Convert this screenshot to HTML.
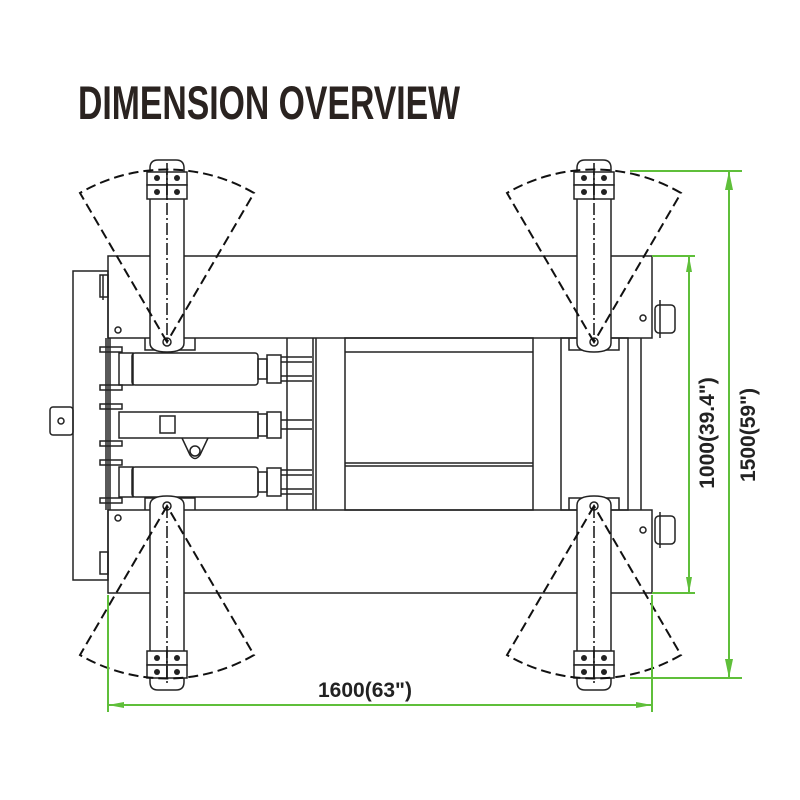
<!DOCTYPE html>
<html><head><meta charset="utf-8"><style>
html,body{margin:0;padding:0;background:#fff;}
svg{display:block;}
</style></head><body>
<svg width="800" height="800" viewBox="0 0 800 800" xmlns="http://www.w3.org/2000/svg">
<rect width="800" height="800" fill="#fff"/>
<text x="78" y="119" font-family="Liberation Sans Narrow, Liberation Sans, sans-serif" font-weight="bold" font-size="47" fill="#2a2320" textLength="382" lengthAdjust="spacingAndGlyphs">DIMENSION OVERVIEW</text>

<g fill="none" stroke="#222" stroke-width="1.5">
  <!-- back plate -->
  <rect x="73" y="271" width="35" height="309"/>
  <rect x="50" y="407" width="23" height="28" rx="3"/>
  <circle cx="61" cy="421" r="3"/>
  <!-- rails -->
  <rect x="108" y="256" width="544" height="82"/>
  <rect x="108" y="510" width="544" height="83"/>
  <line x1="103" y1="275" x2="103" y2="300"/>
  <rect x="100" y="275" width="8" height="22"/>
  <rect x="100" y="552" width="8" height="22"/>
  <circle cx="118" cy="330" r="3"/>
  <circle cx="118" cy="518" r="3"/>
  <!-- left bracket column -->
  <line x1="106" y1="338" x2="106" y2="510"/>
  <line x1="110" y1="338" x2="110" y2="510"/>
  <rect x="100" y="347" width="22" height="5"/>
  <rect x="100" y="385" width="22" height="5"/>
  <rect x="100" y="404" width="22" height="5"/>
  <rect x="100" y="441" width="22" height="5"/>
  <rect x="100" y="460" width="22" height="5"/>
  <rect x="100" y="498" width="22" height="5"/>
  <!-- cylinders -->
  <rect x="119" y="353" width="14" height="32"/>
  <rect x="132" y="353" width="126" height="32" rx="3"/>
  <rect x="258" y="359" width="9" height="20"/>
  <rect x="267" y="355" width="14" height="28"/>
  <line x1="281" y1="357" x2="312" y2="357"/>
  <line x1="281" y1="362" x2="312" y2="362"/>
  <line x1="281" y1="376" x2="312" y2="376"/>
  <line x1="281" y1="381" x2="312" y2="381"/>

  <rect x="119" y="412" width="139" height="26"/>
  <rect x="160" y="416" width="15" height="17"/>
  <path d="M182 438 L190 455 Q195 462 200 455 L208 438"/>
  <circle cx="195" cy="451" r="5"/>
  <rect x="258" y="414" width="9" height="22"/>
  <rect x="267" y="412" width="14" height="26"/>
  <line x1="281" y1="420" x2="312" y2="420"/>
  <line x1="281" y1="429" x2="312" y2="429"/>

  <rect x="119" y="467" width="14" height="30"/>
  <rect x="132" y="467" width="126" height="30" rx="3"/>
  <rect x="258" y="472" width="9" height="20"/>
  <rect x="267" y="468" width="14" height="28"/>
  <line x1="281" y1="470" x2="312" y2="470"/>
  <line x1="281" y1="475" x2="312" y2="475"/>
  <line x1="281" y1="489" x2="312" y2="489"/>
  <line x1="281" y1="494" x2="312" y2="494"/>
  <!-- middle -->
  <line x1="287" y1="338" x2="287" y2="510"/>
  <line x1="313" y1="338" x2="313" y2="510"/>
  <line x1="316" y1="338" x2="316" y2="510"/>
  <rect x="345" y="338" width="188" height="172"/>
  <line x1="345" y1="352" x2="533" y2="352"/>
  <line x1="345" y1="463" x2="533" y2="463"/>
  <line x1="345" y1="466" x2="533" y2="466"/>
  <rect x="561" y="338" width="67" height="172"/>
  <line x1="641" y1="338" x2="641" y2="510"/>
  <!-- right mounts -->
  <rect x="655" y="305" width="20" height="28" rx="4"/>
  <line x1="660" y1="300" x2="660" y2="338"/>
  <circle cx="643" cy="318" r="3"/>
  <rect x="655" y="516" width="20" height="28" rx="4"/>
  <line x1="660" y1="512" x2="660" y2="548"/>
  <circle cx="643" cy="530" r="3"/>
  <!-- pivot brackets -->
  <path d="M145 338 V350 H195 V338"/>
  <path d="M145 510 V498 H195 V510"/>
  <path d="M569 338 V350 H619 V338"/>
  <path d="M569 510 V498 H619 V510"/>
</g>

<!-- arms -->
<g stroke="#222" stroke-width="1.5">
  <!-- top-left -->
  <path d="M150 168 Q150 160 158 160 H176 Q184 160 184 168 V343 Q184 352 167 352 Q150 352 150 343 Z" fill="#fff"/>
  <!-- top-right -->
  <path d="M577 168 Q577 160 585 160 H603 Q611 160 611 168 V343 Q611 352 594 352 Q577 352 577 343 Z" fill="#fff"/>
  <!-- bottom-left -->
  <path d="M150 505 Q150 496 167 496 Q184 496 184 505 V682 Q184 690 176 690 H158 Q150 690 150 682 Z" fill="#fff"/>
  <!-- bottom-right -->
  <path d="M577 505 Q577 496 594 496 Q611 496 611 505 V682 Q611 690 603 690 H585 Q577 690 577 682 Z" fill="#fff"/>
</g>
<g fill="#fff" stroke="#222" stroke-width="1.5">
  <rect x="147" y="172" width="20" height="13"/><rect x="167" y="172" width="20" height="13"/>
  <rect x="147" y="185" width="20" height="14"/><rect x="167" y="185" width="20" height="14"/>
  <rect x="574" y="172" width="20" height="13"/><rect x="594" y="172" width="20" height="13"/>
  <rect x="574" y="185" width="20" height="14"/><rect x="594" y="185" width="20" height="14"/>
  <rect x="147" y="651" width="20" height="14"/><rect x="167" y="651" width="20" height="14"/>
  <rect x="147" y="665" width="20" height="13"/><rect x="167" y="665" width="20" height="13"/>
  <rect x="574" y="651" width="20" height="14"/><rect x="594" y="651" width="20" height="14"/>
  <rect x="574" y="665" width="20" height="13"/><rect x="594" y="665" width="20" height="13"/>
  <circle cx="167" cy="342" r="4"/><circle cx="594" cy="342" r="4"/>
  <circle cx="167" cy="506" r="4"/><circle cx="594" cy="506" r="4"/>
</g>
<g fill="#222">
  <circle cx="157" cy="178" r="3"/><circle cx="177" cy="178" r="3"/><circle cx="157" cy="192" r="3"/><circle cx="177" cy="192" r="3"/>
  <circle cx="584" cy="178" r="3"/><circle cx="604" cy="178" r="3"/><circle cx="584" cy="192" r="3"/><circle cx="604" cy="192" r="3"/>
  <circle cx="157" cy="658" r="3"/><circle cx="177" cy="658" r="3"/><circle cx="157" cy="672" r="3"/><circle cx="177" cy="672" r="3"/>
  <circle cx="584" cy="658" r="3"/><circle cx="604" cy="658" r="3"/><circle cx="584" cy="672" r="3"/><circle cx="604" cy="672" r="3"/>
</g>

<!-- fans -->
<g fill="none" stroke="#111" stroke-width="2" stroke-dasharray="10,5">
  <path d="M167 342 L80 193 A173 173 0 0 1 254 193 Z"/>
  <path d="M594 342 L507 193 A173 173 0 0 1 681 193 Z"/>
  <path d="M167 506 L80 655 A173 173 0 0 0 254 655 Z"/>
  <path d="M594 506 L507 655 A173 173 0 0 0 681 655 Z"/>
</g>
<g stroke="#111" stroke-width="1.5" stroke-dasharray="12,3,2,3">
  <line x1="167" y1="163" x2="167" y2="342"/>
  <line x1="594" y1="163" x2="594" y2="342"/>
  <line x1="167" y1="506" x2="167" y2="686"/>
  <line x1="594" y1="506" x2="594" y2="686"/>
</g>

<!-- green dims -->
<g stroke="#5fbf3a" stroke-width="2" fill="none">
  <line x1="108" y1="595" x2="108" y2="712"/>
  <line x1="652" y1="595" x2="652" y2="712"/>
  <line x1="108" y1="705" x2="652" y2="705"/>
  <line x1="652" y1="256" x2="695" y2="256"/>
  <line x1="652" y1="593" x2="695" y2="593"/>
  <line x1="689" y1="256" x2="689" y2="593"/>
  <line x1="630" y1="171" x2="742" y2="171"/>
  <line x1="630" y1="678" x2="742" y2="678"/>
  <line x1="729" y1="171" x2="729" y2="678"/>
</g>
<g fill="#5fbf3a">
  <path d="M108 705 L124 702 L124 708 Z"/>
  <path d="M652 705 L636 702 L636 708 Z"/>
  <path d="M689 256 L686 272 L692 272 Z"/>
  <path d="M689 593 L686 577 L692 577 Z"/>
  <path d="M729 171 L725 190 L733 190 Z"/>
  <path d="M729 678 L725 659 L733 659 Z"/>
</g>
<g font-family="Liberation Sans, sans-serif" font-weight="bold" fill="#222">
  <text x="365" y="697" font-size="21" text-anchor="middle">1600(63")</text>
  <text transform="translate(714,433) rotate(-90)" font-size="21" text-anchor="middle">1000(39.4")</text>
  <text transform="translate(755,435) rotate(-90)" font-size="21" text-anchor="middle">1500(59")</text>
</g>
</svg>
</body></html>
